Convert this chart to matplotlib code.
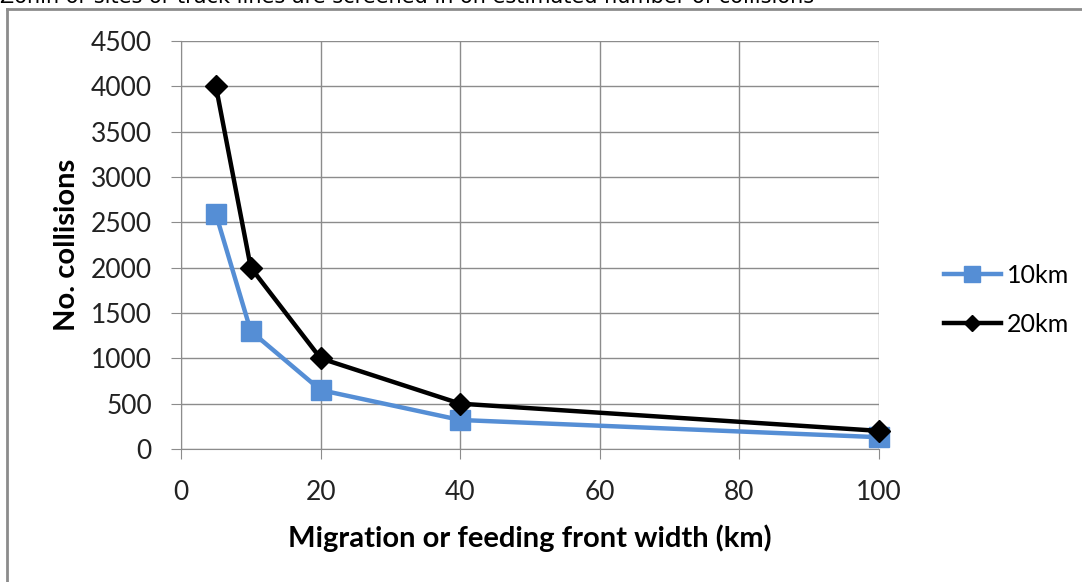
import matplotlib
matplotlib.use("Agg")
import matplotlib.pyplot as plt
from matplotlib.lines import Line2D

plt.rcParams["font.family"] = ["Lato", "DejaVu Sans"]

front_width = [5, 10, 20, 40, 100]
collisions_10km = [2590, 1300, 650, 320, 130]
collisions_20km = [4000, 2000, 1000, 500, 200]
series_labels = ["10km", "20km"]
x_ticks = [0, 20, 40, 60, 80, 100]
y_ticks = list(range(0, 5000, 500))

W, H = 1082, 582
fig = plt.figure(figsize=(W / 100, H / 100), dpi=100)

# outer chart frame (only top and left edges visible)
fig.add_artist(Line2D([7 / W, 1.01], [1 - 9 / H, 1 - 9 / H], color="#8c8c8c", lw=2))
fig.add_artist(Line2D([7 / W, 7 / W], [-0.01, 1 - 9 / H], color="#8c8c8c", lw=2))

# caption cut off at the top of the image
fig.text(0, 1 - 3 / H, "Zonin or sites or track lines are screened in on estimated number of collisions",
         fontsize=15, fontfamily="DejaVu Sans", va="baseline", ha="left")

ax = fig.add_axes([181 / W, 1 - 449 / H, (879 - 181) / W, (449 - 41) / H])
ax.set_xlim(0, 100)
ax.set_ylim(0, 4500)
ax.set_xticks(x_ticks)
ax.set_yticks(y_ticks)
ax.grid(True, color="#8c8c8c", lw=1)
ax.set_axisbelow(True)
for s in ["top", "right"]:
    ax.spines[s].set_visible(False)
for s in ["left", "bottom"]:
    ax.spines[s].set_color("#8c8c8c")
ax.tick_params(axis="both", colors="#8c8c8c", length=7, labelsize=19, labelcolor="#222222")
ax.tick_params(axis="x", pad=15)
ax.tick_params(axis="y", pad=14)

ax.plot(front_width, collisions_10km, color="#558ED5", lw=3.2, marker="s", ms=15,
        markerfacecolor="#558ED5", markeredgecolor="#558ED5", label=series_labels[0], clip_on=False)
ax.plot(front_width, collisions_20km, color="black", lw=3.2, marker="D", ms=11,
        label=series_labels[1], clip_on=False)

ax.set_xlabel("Migration or feeding front width (km)", fontsize=21, fontweight="bold", labelpad=14)
ax.set_ylabel("No. collisions", fontsize=21, fontweight="bold", labelpad=8)

leg_handles = [
    Line2D([], [], color="#558ED5", lw=3.2, marker="s", ms=11),
    Line2D([], [], color="black", lw=3.2, marker="D", ms=8),
]
fig.legend(leg_handles, series_labels, loc="center left", bbox_to_anchor=(926 / W, 1 - 300 / H),
           frameon=False, fontsize=18, handlelength=2.3, handletextpad=0.25, labelspacing=1.05,
           borderpad=0.2)

fig.savefig("out.png", dpi=100)
